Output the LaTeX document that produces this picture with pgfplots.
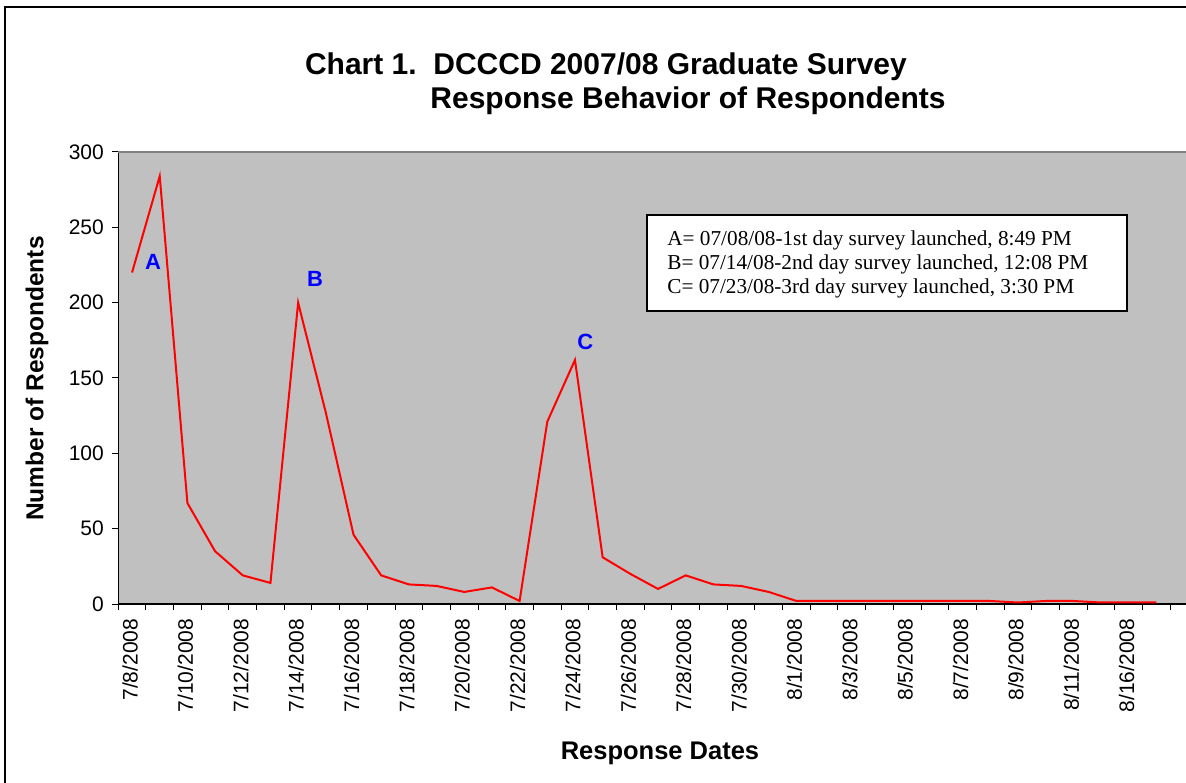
\documentclass[border=0pt]{standalone}
\usepackage{fontspec}
\setmainfont{Liberation Sans}
\newfontfamily\timesf{Liberation Serif}
\usepackage{pgfplots}
\pgfplotsset{compat=1.18}
\definecolor{plotgray}{HTML}{C0C0C0}
\definecolor{topgray}{HTML}{808080}
\definecolor{annblue}{HTML}{0000FF}

\pgfplotstableread{
x y
0 220
1 284
2 67
3 35
4 19
5 14
6 200
7 127
8 46
9 19
10 13
11 12
12 8
13 11
14 2
15 121
16 162
17 31
18 20
19 10
20 19
21 13
22 12
23 8
24 2
25 2
26 2
27 2
28 2
29 2
30 2
31 2
32 1
33 2
34 2
35 1
36 1
37 1
}\responses

\begin{document}
\begin{tikzpicture}
\useasboundingbox (0,0) rectangle (711.6pt,-469.8pt);
\draw[black, line width=1pt] (3pt,-480pt) -- (3pt,-4.2pt) -- (720pt,-4.2pt);
\begin{axis}[
  at={(70.92pt,-362.4pt)}, anchor=south west,
  scale only axis, width=640.8pt, height=271.2pt,
  xmin=-0.5, xmax=38.08, ymin=0, ymax=300,
  axis x line*=bottom, axis y line*=left,
  axis line style={black, line width=0.8pt},
  axis background/.style={fill=plotgray},
  tick align=outside,
  major tick length=3.6pt,
  tick style={black, line width=0.6pt},
  xtick={-0.5,0.5,...,37.5},
  xticklabels={},
  extra x ticks={0,2,...,36},
  extra x tick labels={7/8/2008,7/10/2008,7/12/2008,7/14/2008,7/16/2008,7/18/2008,7/20/2008,7/22/2008,7/24/2008,7/26/2008,7/28/2008,7/30/2008,8/1/2008,8/3/2008,8/5/2008,8/7/2008,8/9/2008,8/11/2008,8/16/2008},
  extra x tick style={major tick length=0pt},
  xticklabel style={font=\fontsize{12.6}{15}\selectfont, xshift=-1.2pt, rotate=90, anchor=east},
  xticklabel shift=5.4pt,
  ytick={0,50,...,300},
  yticklabels={0,50,100,150,200,250,300},
  yticklabel style={font=\fontsize{12.6}{15}\selectfont},
  yticklabel shift=1.5pt,
  clip=false,
]
\draw[topgray, line width=1.2pt] (rel axis cs:0,1) -- (rel axis cs:1,1);
\addplot[red, line width=1.2pt, mark=none] table[x=x, y=y] {\responses};
\node[text=annblue, font=\fontsize{13.2}{15}\bfseries\selectfont] at (axis cs:0.76,227) {A};
\node[text=annblue, font=\fontsize{13.2}{15}\bfseries\selectfont] at (axis cs:6.61,215.7) {B};
\node[text=annblue, font=\fontsize{13.2}{15}\bfseries\selectfont] at (axis cs:16.37,173.9) {C};
\end{axis}
% title
\node[anchor=base, font=\fontsize{18}{21.6}\bfseries\selectfont] at (363.6pt,-45pt) {Chart 1.\ \ DCCCD 2007/08 Graduate Survey};
\node[anchor=base, font=\fontsize{18}{21.6}\bfseries\selectfont] at (412.8pt,-65.4pt) {Response Behavior of Respondents};
% axis titles
\node[anchor=base, rotate=90, font=\fontsize{14.7}{17}\bfseries\selectfont] at (26pt,-227.1pt) {Number of Respondents};
\node[anchor=base, font=\fontsize{15.3}{17}\bfseries\selectfont] at (396pt,-455.4pt) {Response Dates};
% note box
\draw[black, line width=1.2pt, fill=white] (388.2pt,-129pt) rectangle (676.2pt,-186.6pt);
\node[anchor=base west, inner sep=0pt, font=\timesf\fontsize{12.75}{15}\selectfont] at (400.2pt,-147.6pt) {A= 07/08/08-1st day survey launched, 8:49 PM};
\node[anchor=base west, inner sep=0pt, font=\timesf\fontsize{12.75}{15}\selectfont] at (400.2pt,-162pt) {B= 07/14/08-2nd day survey launched, 12:08 PM};
\node[anchor=base west, inner sep=0pt, font=\timesf\fontsize{12.75}{15}\selectfont] at (400.2pt,-176.4pt) {C= 07/23/08-3rd day survey launched, 3:30 PM};
\end{tikzpicture}
\end{document}
